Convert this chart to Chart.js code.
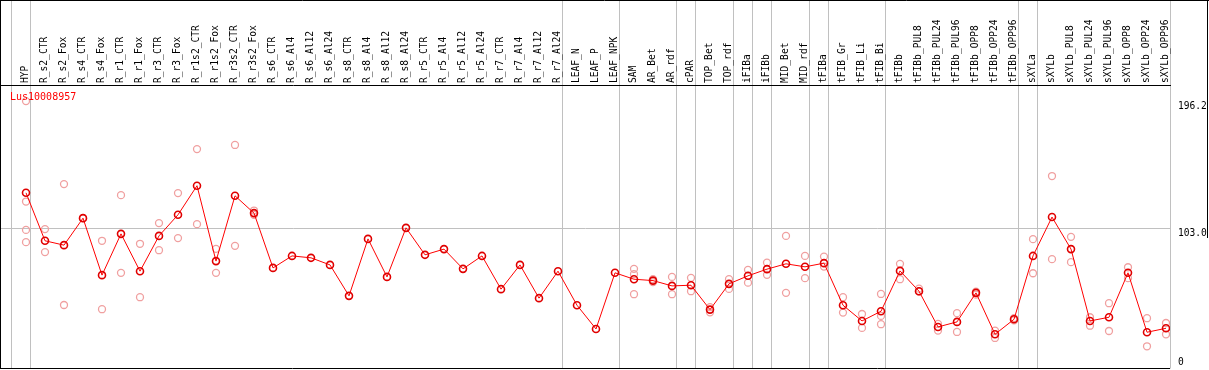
<!DOCTYPE html>
<html>
<head>
<meta charset="utf-8">
<script src="https://cdn.jsdelivr.net/npm/chart.js@4.4.1/dist/chart.umd.min.js"></script>
<style>
  html, body { margin: 0; padding: 0; background: #fff; }
  #wrap { width: 1209px; height: 370px; }
</style>
</head>
<body>
<div id="wrap"><canvas id="chart" width="1209" height="370"></canvas></div>
<script>
const geneId = "Lus10008957";

const categories = [
  "HYP", "R_s2_CTR", "R_s2_Fox", "R_s4_CTR", "R_s4_Fox", "R_r1_CTR", "R_r1_Fox",
  "R_r3_CTR", "R_r3_Fox", "R_r1s2_CTR", "R_r1s2_Fox", "R_r3s2_CTR", "R_r3s2_Fox",
  "R_s6_CTR", "R_s6_Al4", "R_s6_Al12", "R_s6_Al24", "R_s8_CTR", "R_s8_Al4",
  "R_s8_Al12", "R_s8_Al24", "R_r5_CTR", "R_r5_Al4", "R_r5_Al12", "R_r5_Al24",
  "R_r7_CTR", "R_r7_Al4", "R_r7_Al12", "R_r7_Al24", "LEAF_N", "LEAF_P", "LEAF_NPK",
  "SAM", "AR_Bet", "AR_rdf", "cPAR", "TOP_Bet", "TOP_rdf", "iFIBa", "iFIBb",
  "MID_Bet", "MID_rdf", "tFIBa", "tFIB_Gr", "tFIB_Li", "tFIB_Bi", "tFIBb",
  "tFIBb_PUL8", "tFIBb_PUL24", "tFIBb_PUL96", "tFIBb_OPP8", "tFIBb_OPP24", "tFIBb_OPP96",
  "sXYLa", "sXYLb", "sXYLb_PUL8", "sXYLb_PUL24", "sXYLb_PUL96", "sXYLb_OPP8",
  "sXYLb_OPP24", "sXYLb_OPP96"
];

// mean expression per sample
const means = [
  128.9, 93.7, 90.5, 110.3, 68.5, 98.8, 71.4, 97.3, 112.8, 134.1, 78.8, 126.7, 114.0,
  73.8, 82.6, 81.2, 76.0, 53.3, 95.1, 67.2, 103.2, 83.4, 87.6, 73.1, 82.6,
  58.2, 76.0, 51.6, 71.4, 46.4, 29.0, 70.2,
  65.5, 64.5, 60.6, 61.1, 43.2, 62.1, 68.0, 72.9, 76.8, 74.6, 77.3, 46.4, 34.9, 42.0,
  71.6, 56.7, 30.5, 34.2, 55.5, 25.1, 36.1,
  82.6, 111.1, 87.6, 34.9, 37.6, 70.2, 26.6, 29.5
];

// replicate values per sample
const reps = [
  [196.2, 122.5, 101.7, 92.7], [102.3, 85.4], [135.3, 46.6], [110.3], [93.7, 43.5],
  [127.2, 70.2], [91.5, 52.3], [106.7, 86.8], [128.7, 95.7], [161.0, 105.9],
  [87.8, 70.2], [164.0, 90.0], [115.9, 112.8],
  [], [], [], [], [], [], [], [], [], [], [], [], [], [], [], [], [], [], [],
  [73.1, 69.2, 54.5], [65.6, 63.4], [67.2, 54.5], [66.5, 56.7], [45.0, 41.2],
  [65.5, 58.4], [72.4, 63.0], [77.7, 68.7], [97.3, 55.5], [82.6, 66.3],
  [82.1, 74.8], [52.3, 41.0], [40.0, 29.8], [54.7, 38.6, 32.5],
  [76.8, 65.5], [58.6, 56.4], [32.7, 27.8], [40.6, 26.8], [56.4, 54.2],
  [27.8, 22.4], [37.0, 35.3],
  [94.9, 69.9], [141.2, 80.2], [96.6, 78.0], [37.6, 31.4], [47.9, 27.5],
  [74.3, 66.3], [36.9, 16.3], [33.4, 25.1]
];

const yTicks = [0, 103.0, 196.2];
const yMax = 208.0;

// group separators fall after these sample indices
const separatorsAfter = [-1, 0, 28, 31, 34, 35, 37, 38, 39, 41, 42, 45, 52, 53, 60];

const monoFont = "'DejaVu Sans Mono', monospace";

const meanPoints = means.map((v, i) => ({ x: i, y: v }));
const repPoints = reps.flatMap((r, i) => r.map((v) => ({ x: i, y: v })));

const framePlugin = {
  id: "frame",
  beforeDraw(chart) {
    const { ctx, chartArea, scales } = chart;
    const xs = scales.x;
    ctx.save();
    ctx.strokeStyle = "#c0c0c0";
    ctx.lineWidth = 1;
    separatorsAfter.forEach((i) => {
      const px = Math.floor(xs.getPixelForValue(i) + 4.3) + 0.5;
      ctx.beginPath();
      ctx.moveTo(px, 0);
      ctx.lineTo(px, chartArea.bottom);
      ctx.stroke();
    });
    ctx.restore();
  },
  afterDraw(chart) {
    const { ctx, chartArea, scales } = chart;
    const ys = scales.y;
    ctx.save();
    ctx.strokeStyle = "#000";
    ctx.lineWidth = 1;
    ctx.beginPath();
    ctx.moveTo(0, 0.5);
    ctx.lineTo(chart.width, 0.5);
    ctx.moveTo(0.5, 0);
    ctx.lineTo(0.5, chartArea.bottom);
    ctx.moveTo(0, chartArea.bottom);
    ctx.lineTo(chartArea.right, chartArea.bottom);
    ctx.moveTo(chart.width - 1.5, 0);
    ctx.lineTo(chart.width - 1.5, 238);
    ctx.stroke();

    // y tick labels, drawn just under their value
    ctx.fillStyle = "#000";
    ctx.font = "9.6px " + monoFont;
    ctx.textAlign = "left";
    ctx.textBaseline = "middle";
    yTicks.forEach((v) => {
      const py = Math.min(ys.getPixelForValue(v) + 5, chartArea.bottom - 6);
      ctx.fillText(v === 0 ? "0" : v.toFixed(1), chartArea.right + 8, py);
    });

    ctx.fillStyle = "#ff0000";
    ctx.font = "10px " + monoFont;
    ctx.textBaseline = "middle";
    ctx.fillText(geneId, chartArea.left + 9, chartArea.top + 12);
    ctx.restore();
  }
};

new Chart(document.getElementById("chart"), {
  type: "line",
  data: {
    datasets: [
      {
        label: "mean",
        data: meanPoints,
        borderColor: "#ff0000",
        borderWidth: 1,
        pointRadius: 3.5,
        pointBorderWidth: 1.6,
        pointBorderColor: "#e00000",
        pointBackgroundColor: "rgba(0,0,0,0)",
        tension: 0,
      },
      {
        label: "replicates",
        data: repPoints,
        showLine: false,
        pointRadius: 3.5,
        pointBorderWidth: 1.3,
        pointBorderColor: "#f0a0a0",
        pointBackgroundColor: "rgba(0,0,0,0)",
      },
    ],
  },
  options: {
    responsive: false,
    animation: false,
    devicePixelRatio: 1,
    layout: { autoPadding: false, padding: { left: 1, right: 0, top: 0, bottom: 1.5 } },
    scales: {
      x: {
        type: "linear",
        position: "top",
        min: -25 / 19,
        max: 1144 / 19,
        afterBuildTicks: (scale) => {
          scale.ticks = categories.map((_, i) => ({ value: i }));
        },
        afterFit: (scale) => {
          scale.height = 85;
          scale.paddingLeft = 0;
          scale.paddingRight = 0;
        },
        grid: { display: false, drawTicks: false },
        border: { display: true, color: "#000", width: 1 },
        ticks: {
          autoSkip: false,
          maxRotation: 90,
          minRotation: 90,
          padding: 2,
          labelOffset: 11,
          color: "#000",
          font: { family: monoFont, size: 9.6 },
          callback: (value) => categories[value] ?? "",
        },
      },
      y: {
        type: "linear",
        position: "right",
        min: 0,
        max: yMax,
        afterBuildTicks: (scale) => {
          scale.ticks = yTicks.map((v) => ({ value: v }));
        },
        afterFit: (scale) => {
          scale.width = 39;
          scale.paddingTop = 0;
          scale.paddingBottom = 0;
        },
        grid: {
          drawTicks: false,
          color: (c) => (c.tick && c.tick.value === 103.0 ? "#c0c0c0" : "rgba(0,0,0,0)"),
        },
        border: { display: false },
        ticks: { display: false },
      },
    },
    plugins: {
      legend: { display: false },
      tooltip: { enabled: false },
    },
  },
  plugins: [framePlugin],
});
</script>
</body>
</html>
